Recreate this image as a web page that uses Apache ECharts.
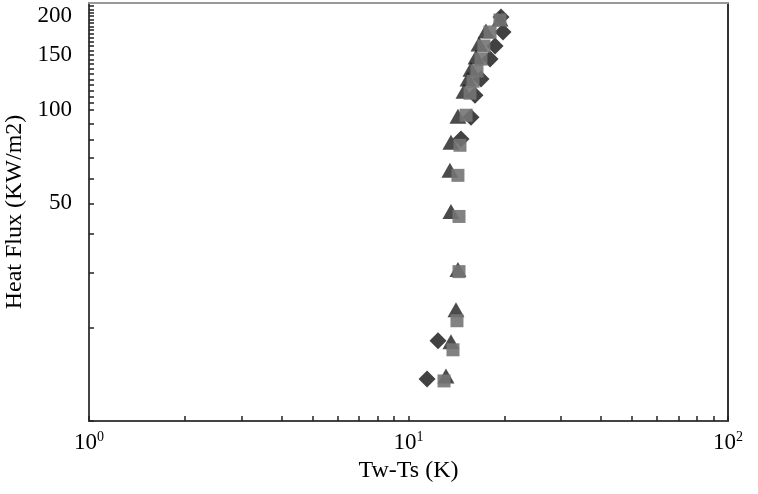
<!DOCTYPE html>
<html>
<head>
<meta charset="utf-8">
<script src="https://cdn.jsdelivr.net/npm/echarts@6/dist/echarts.min.js"></script>
<style>
  html, body { margin: 0; padding: 0; background: #fff; }
  #chart { width: 758px; height: 494px; }
</style>
</head>
<body>
<div id="chart"></div>
<script>
// values (x: Tw-Ts in K, y: heat flux in KW/m2)
const diamondX = [11.43, 12.37, 14.6, 15.69, 16.15, 16.86, 18.0, 18.66, 19.76, 19.48];
const diamondY = [13.65, 18.1, 80.4, 94.5, 111.3, 125.3, 145.3, 160.0, 177.5, 198.4];
const triangleX = [13.1, 13.58, 14.08, 14.28, 13.58, 13.48, 13.58, 14.28, 14.92, 15.36, 15.69, 16.27, 16.62, 17.48, 19.33];
const triangleY = [13.96, 17.96, 22.77, 30.63, 47.09, 63.82, 78.53, 95.24, 114.6, 125.3, 134.9, 147.5, 162.4, 178.8, 195.5];
const squareX = [12.92, 13.78, 14.18, 14.39, 14.39, 14.28, 14.49, 15.14, 15.58, 15.92, 16.38, 16.86, 17.22, 18.0, 19.33];
const squareY = [13.45, 16.93, 20.99, 30.18, 45.38, 61.5, 76.82, 95.94, 112.9, 123.4, 133.0, 145.3, 160.0, 177.5, 194.0];

// axis ticks and labels
const xTicks = [1, 2, 3, 4, 5, 6, 7, 8, 9, 10, 20, 30, 40, 50, 60, 70, 80, 90, 100];
const xLabels = [1, 10, 100];
const yTicks = [10, 20, 30, 40, 50, 60, 70, 80, 90, 100, 105, 110, 115, 120, 125, 130, 135, 140, 145,
  150, 155, 160, 165, 170, 175, 180, 185, 190, 195, 200, 205, 210, 215];
const yLabels = [50, 100, 150, 200];
const xRange = [1, 100];
const yRange = [10, 220];

const lg = (v) => Math.log10(v);
const pairs = (xs, ys) => xs.map((x, i) => [lg(x), lg(ys[i])]);

const font = '"Liberation Serif", "DejaVu Serif", serif';
const chart = echarts.init(document.getElementById('chart'));

const option = {
  animation: false,
  backgroundColor: '#fff',
  grid: { left: 89, right: 30, top: 3, bottom: 73, outerBoundsMode: 'none', containLabel: false },
  xAxis: [
    {
      type: 'value',
      min: lg(xRange[0]),
      max: lg(xRange[1]),
      name: 'Tw-Ts (K)',
      nameLocation: 'middle',
      nameGap: 34,
      nameTextStyle: { fontFamily: font, fontSize: 24, color: '#000' },
      axisLine: { onZero: false, lineStyle: { color: '#444', width: 2 } },
      axisTick: {
        inside: true, length: 5,
        lineStyle: { color: '#222', width: 1.5 },
        customValues: xTicks.map(lg)
      },
      axisLabel: {
        customValues: xLabels.map(lg),
        margin: 9,
        formatter: (v) => '{b|10}{s|' + Math.round(v) + '}',
        rich: {
          b: { fontFamily: font, fontSize: 23, color: '#000' },
          s: { fontFamily: font, fontSize: 14, color: '#000', padding: [0, 0, 11, 0] }
        }
      },
      splitLine: { show: false }
    },
    {
      type: 'value',
      position: 'top',
      min: lg(xRange[0]),
      max: lg(xRange[1]),
      axisLine: { onZero: false, lineStyle: { color: '#999', width: 2 } },
      axisTick: { show: false },
      axisLabel: { show: false },
      splitLine: { show: false }
    }
  ],
  yAxis: [
    {
      type: 'value',
      min: lg(yRange[0]),
      max: lg(yRange[1]),
      name: 'Heat Flux (KW/m2)',
      nameLocation: 'middle',
      nameGap: 61,
      nameTextStyle: { fontFamily: font, fontSize: 24, color: '#000' },
      axisLine: { show: true, onZero: false, lineStyle: { color: '#444', width: 2 } },
      axisTick: {
        inside: true, length: 5,
        lineStyle: { color: '#222', width: 1.5 },
        customValues: yTicks.map(lg)
      },
      axisLabel: {
        customValues: yLabels.map(lg),
        margin: 17,
        fontFamily: font, fontSize: 23, color: '#000',
        formatter: (v) => String(Math.round(Math.pow(10, v)))
      },
      splitLine: { show: false }
    },
    {
      type: 'value',
      position: 'right',
      min: lg(yRange[0]),
      max: lg(yRange[1]),
      axisLine: { show: true, onZero: false, lineStyle: { color: '#333', width: 2 } },
      axisTick: { show: false },
      axisLabel: { show: false },
      splitLine: { show: false }
    }
  ],
  series: [
    {
      name: 'diamond',
      type: 'scatter',
      symbol: 'diamond',
      symbolSize: 17,
      itemStyle: { color: '#111' },
      data: pairs(diamondX, diamondY)
    },
    {
      name: 'triangle',
      type: 'scatter',
      symbol: 'triangle',
      symbolSize: [17, 15],
      itemStyle: { color: '#1e1e1e' },
      data: pairs(triangleX, triangleY)
    },
    {
      name: 'square',
      type: 'scatter',
      symbol: 'rect',
      symbolSize: 13,
      itemStyle: { color: '#747474', opacity: 0.9 },
      data: pairs(squareX, squareY)
    }
  ]
};

chart.setOption(option);
</script>
</body>
</html>
